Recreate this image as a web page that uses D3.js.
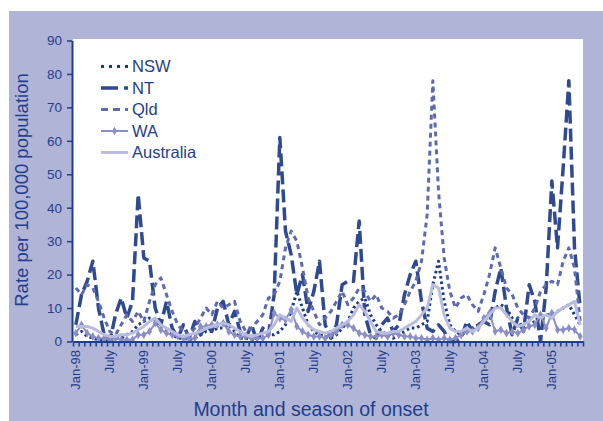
<!DOCTYPE html>
<html>
<head>
<meta charset="utf-8">
<script src="https://cdn.jsdelivr.net/npm/d3@7"></script>
<style>
  body { margin: 0; background: #ffffff; }
  svg { display: block; }
  text { font-family: "Liberation Sans", Arial, Helvetica, sans-serif; fill: #1f3e8b; }
</style>
</head>
<body>
<svg id="chart" width="603" height="421"></svg>
<script>
// Monthly notification rates per 100,000 population, Jan 1998 – Jun 2005
const nsw = [
  2, 3, 1.5, 1, 0.5, 0.5, 0.5, 1, 1, 2, 3, 5,
  6, 7, 6.5, 4, 3, 2, 1, 1, 0.5, 1, 2, 3,
  3, 4, 4, 5, 3, 1, 1, 0.5, 1, 1, 2, 2,
  3, 5, 9, 15, 10, 5, 3, 2, 1.5, 1, 2, 4,
  6, 10, 12, 13, 8, 5, 3, 2, 1, 2, 3, 4,
  4, 5, 6, 17, 24, 12, 5, 3, 2, 3, 4, 5,
  6, 8, 10, 11, 10, 7, 5, 4, 5, 6, 7, 8,
  8, 9, 10, 11, 8, 5
];
const nt = [
  5, 14, 18, 24, 10, 2, 0, 8, 13, 7, 12, 44,
  25, 24, 10, 5, 12, 4, 1, 5, 1, 6, 2, 5,
  3, 10, 12, 5, 9, 3, 1, 5, 0, 4, 2, 14,
  61, 33, 26, 14, 20, 9, 15, 24, 5, 1, 5, 17,
  18, 18, 36, 8, 2, 1, 5, 7, 3, 5, 14, 20,
  24, 12, 4, 3, 5, 3, 0, 0, 1, 6, 3, 5,
  6, 5, 15, 22, 10, 2, 7, 3, 17, 12, 0, 16,
  48, 28, 52, 78, 28, 10
];
const qld = [
  16, 14, 17, 16, 12, 7, 3, 2, 5, 8, 6, 9,
  6, 12, 17, 19, 14, 9, 5, 3, 2, 4, 7, 10,
  8, 12, 10, 11, 12, 6, 3, 4, 6, 8, 13, 14,
  18, 28, 33, 30, 22, 13, 9, 5, 7, 9, 12, 15,
  11, 13, 16, 15, 12, 14, 10, 9, 7, 8, 11, 15,
  18, 24, 38, 78, 45, 25, 15, 10, 13, 14, 11, 9,
  14, 20, 28, 22, 16, 14, 10, 8, 7, 10, 15, 17,
  18, 17, 24, 28, 22, 6
];
const wa = [
  2.5, 5, 2.5, 1.5, 1, 1, 0.5, 1, 0.5, 0.5, 0.5, 2,
  2, 3, 5.5, 3.5, 2.5, 2, 1.5, 1, 0.8, 1, 4.5, 4.5,
  5, 5, 5.5, 3, 2, 1.5, 1.5, 1, 1, 1, 2, 8.5,
  7, 6.5, 9.5, 4.5, 3, 2, 1.5, 1.5, 1, 2, 3, 5,
  5, 4, 2.5, 2, 1.5, 1.5, 2, 1.5, 2.5, 2, 1.5, 1.5,
  1, 1, 0.5, 1, 0.5, 1, 0.5, 1, 2, 3, 3, 4,
  7, 8.5, 3, 3.5, 2.5, 3, 2.5, 3.5, 4.5, 5, 8, 4,
  8.5, 3.5, 3.5, 4, 3.5, 1.5
];
const australia = [
  4.5, 4.5, 4.5, 4, 3, 2, 1.5, 1.5, 2, 2, 2.5, 3.5,
  4.5, 6, 7, 5, 4, 3, 2, 1.5, 2, 2.5, 3, 4,
  4.5, 5, 5.5, 5, 4, 3, 2, 1.5, 2, 2.5, 3, 5,
  8, 7, 6, 10, 7, 5, 3.5, 3, 2.5, 3, 4, 5,
  6, 8, 11, 9, 6, 3, 2.5, 2.5, 3, 3, 4, 5,
  6, 8, 10, 17, 16, 8, 4, 3, 3, 4, 3, 4,
  6, 8, 10, 10, 8, 6, 4.5, 5, 6, 8, 7, 8,
  7, 9, 10, 11, 12, 5
];

const months = d3.timeMonth.range(new Date(1998, 0, 1), new Date(2005, 6, 1));
const xTickLabels = ["Jan-98", "July", "Jan-99", "July", "Jan-00", "July", "Jan-01", "July",
                     "Jan-02", "July", "Jan-03", "July", "Jan-04", "July", "Jan-05"];
const yTicks = [0, 10, 20, 30, 40, 50, 60, 70, 80, 90];

const ink = "#1f3e8b";
const series = [
  { name: "NSW",       values: nsw,       color: "#1b3a80", width: 3,   dash: "2.5,3", legendDash: "3,5" },
  { name: "NT",        values: nt,        color: "#2f4a8f", width: 3.5, dash: "13,5",  legendDash: "17,6" },
  { name: "Qld",       values: qld,       color: "#5d6aae", width: 3,   dash: "5,4",   legendDash: "7,5" },
  { name: "WA",        values: wa,        color: "#8a8ec6", width: 2,   dash: null,    legendDash: null, marker: true },
  { name: "Australia", values: australia, color: "#b9bcdf", width: 3,   dash: null,    legendDash: null }
];

const svg = d3.select("#chart");
const W = 603, H = 421;
const plot = { left: 73, right: 583, top: 39, bottom: 341.5 };

// frame and plot area
svg.append("rect").attr("x", 9).attr("y", 11).attr("width", W - 9).attr("height", H - 11)
  .attr("fill", "#b0b4d7");
svg.append("rect").attr("x", plot.left).attr("y", plot.top)
  .attr("width", plot.right - plot.left).attr("height", plot.bottom - plot.top)
  .attr("fill", "#ffffff");

const x = d3.scaleBand().domain(d3.range(months.length)).range([plot.left, plot.right]);
const cx = i => x(i) + x.bandwidth() / 2;
const y = d3.scaleLinear().domain([0, 90]).range([plot.bottom, 40.5]);

// series lines
const line = d3.line().x((d, i) => cx(i)).y(d => y(d));
const g = svg.append("g");
series.forEach(s => {
  g.append("path")
    .datum(s.values)
    .attr("d", line)
    .attr("fill", "none")
    .attr("stroke", s.color)
    .attr("stroke-width", s.width)
    .attr("stroke-linejoin", "round")
    .attr("stroke-dasharray", s.dash);
  if (s.marker) {
    g.selectAll(null).data(s.values).enter().append("path")
      .attr("d", d3.symbol(d3.symbolDiamond, 22))
      .attr("transform", (d, i) => `translate(${cx(i)},${y(d)})`)
      .attr("fill", s.color);
  }
});

// y axis
const yAxis = svg.append("g")
  .attr("transform", `translate(${plot.left - 1},0)`)
  .call(d3.axisLeft(y).tickValues(yTicks).tickSize(5).tickSizeOuter(0).tickPadding(5));
yAxis.select(".domain").attr("stroke", ink).attr("stroke-width", 2);
yAxis.selectAll(".tick line").attr("stroke", ink).attr("stroke-width", 1.5);
yAxis.selectAll(".tick text").attr("font-size", 13.5).style("font-family", null);

// x axis: month boundaries as ticks
const xb = d3.scaleLinear().domain([0, months.length]).range([plot.left, plot.right]);
const xAxis = svg.append("g")
  .attr("transform", `translate(0,${plot.bottom})`)
  .call(d3.axisBottom(xb).tickValues(d3.range(months.length + 1)).tickFormat("")
    .tickSize(5).tickSizeOuter(0));
xAxis.select(".domain").attr("stroke", ink).attr("stroke-width", 2);
xAxis.selectAll(".tick line").attr("stroke", ink).attr("stroke-width", 1.5);

svg.append("g").selectAll("text").data(xTickLabels).enter().append("text")
  .attr("transform", (d, j) => `translate(${cx(j * 6)},350) rotate(-90)`)
  .attr("text-anchor", "end")
  .attr("dy", "0.35em")
  .attr("font-size", 13)
  .text(d => d);

// axis titles
svg.append("text")
  .attr("transform", "translate(28,190) rotate(-90)")
  .attr("text-anchor", "middle")
  .attr("font-size", 18.5)
  .text("Rate per 100,000 population");
svg.append("text")
  .attr("x", 311).attr("y", 416)
  .attr("text-anchor", "middle")
  .attr("font-size", 19.5)
  .text("Month and season of onset");

// legend
const legendY = [66.5, 88, 109.5, 131, 152.5];
const lg = svg.append("g");
series.forEach((s, k) => {
  const ly = legendY[k];
  lg.append("line")
    .attr("x1", 101).attr("x2", 128).attr("y1", ly).attr("y2", ly)
    .attr("stroke", s.color).attr("stroke-width", s.width)
    .attr("stroke-dasharray", s.legendDash);
  if (s.marker) {
    lg.append("path").attr("d", d3.symbol(d3.symbolDiamond, 22))
      .attr("transform", `translate(114.5,${ly})`).attr("fill", s.color);
  }
  lg.append("text")
    .attr("x", 132).attr("y", ly).attr("dy", "0.35em")
    .attr("font-size", 16.5)
    .text(s.name);
});
</script>
</body>
</html>
